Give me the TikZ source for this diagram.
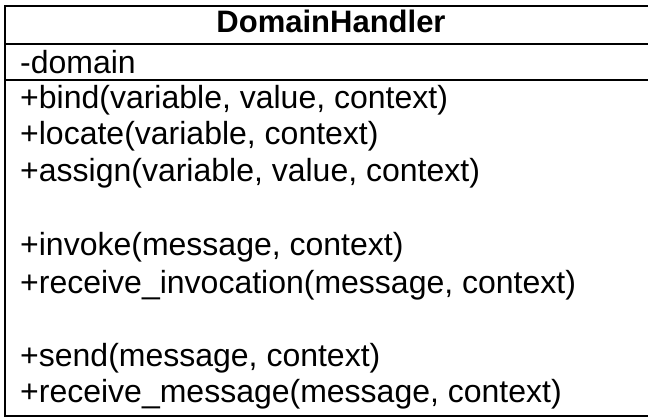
\documentclass[tikz,border=0pt]{standalone}
\usepackage{fontspec}
\setmainfont{Liberation Sans}
\begin{document}
\begin{tikzpicture}[x=1pt,y=-1pt,
  border/.style={line width=2pt,black},
  member/.style={anchor=base west,inner sep=0pt,font=\fontsize{32}{34}\selectfont},
  title/.style={anchor=base,inner sep=0pt,font=\fontsize{31}{33}\selectfont\bfseries}]
\useasboundingbox (0,0) rectangle (648,418);
\draw[border] (662,5.5) -- (5,5.5) -- (5,416) -- (662,416);
\draw[border] (5,43.5) -- (662,43.5);
\draw[border] (5,80) -- (662,80);
\node[title] (t) at (331,32) {DomainHandler};
\node[member] (a1) at (20,73) {-domain};
\node[member] (m1) at (20,108) {+bind(variable, value, context)};
\node[member] (m2) at (20,144.9) {+locate(variable, context)};
\node[member] (m3) at (20,181.8) {+assign(variable, value, context)};
\node[member] (m4) at (20,255.6) {+invoke(message, context)};
\node[member] (m5) at (20,293) {+receive\_invocation(message, context)};
\node[member] (m6) at (20,366.3) {+send(message, context)};
\node[member] (m7) at (20,402.5) {+receive\_message(message, context)};
\end{tikzpicture}
\end{document}
